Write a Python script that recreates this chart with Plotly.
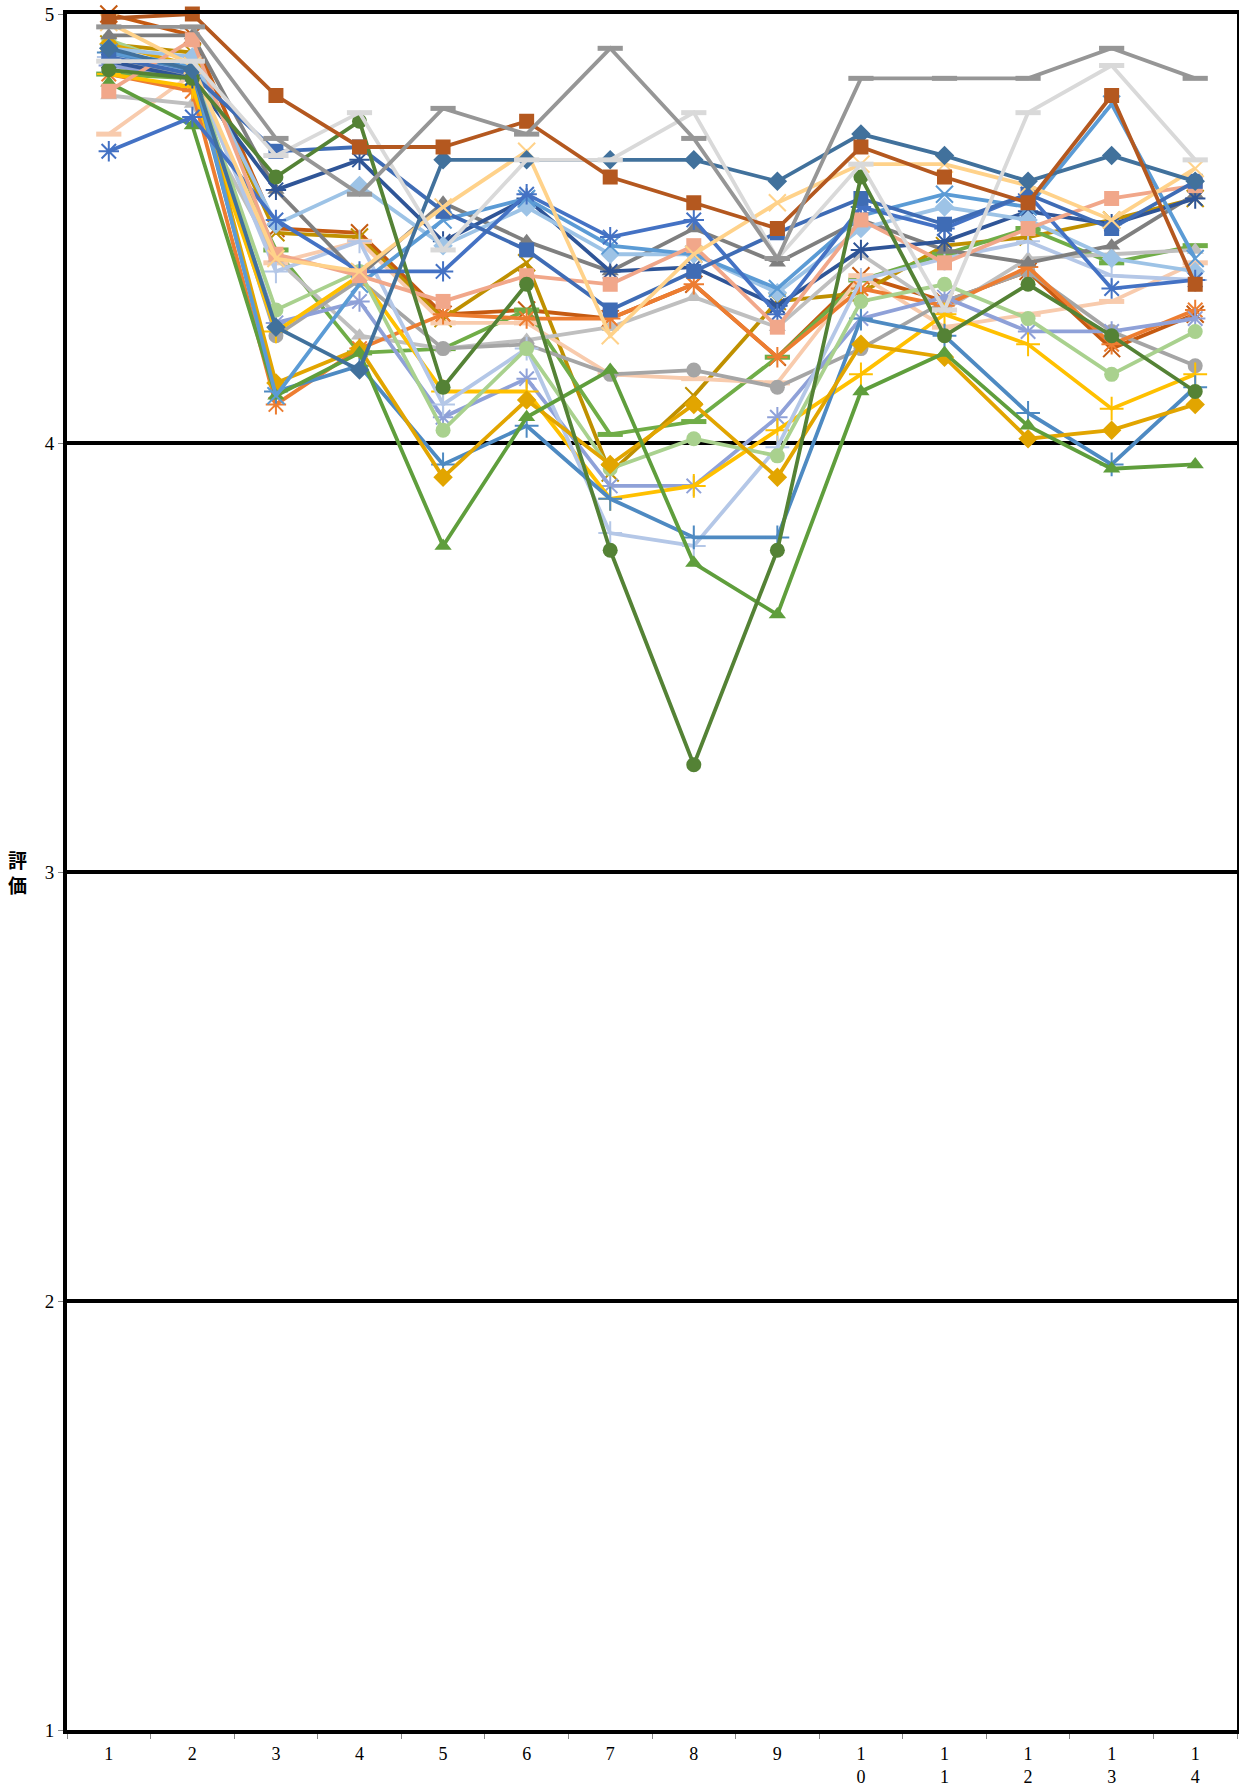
import plotly.graph_objects as go

categories = [str(i) for i in range(1, 15)]
tick_labels = ["1", "2", "3", "4", "5", "6", "7", "8", "9",
               "1<br>0", "1<br>1", "1<br>2", "1<br>3", "1<br>4"]

# series values (評価)
s01 = [4.97, 4.97, 4.71, 4.58, 4.78, 4.72, 4.92, 4.71, 4.43, 4.85, 4.85, 4.85, 4.92, 4.85]
s02 = [4.89, 4.89, 4.67, 4.77, 4.45, 4.66, 4.66, 4.77, 4.43, 4.65, 4.31, 4.77, 4.88, 4.66]
s03 = [4.99, 5.00, 4.81, 4.69, 4.69, 4.75, 4.62, 4.56, 4.50, 4.69, 4.62, 4.56, 4.81, 4.37]
s04 = [4.92, 4.87, 4.27, 4.17, 4.66, 4.66, 4.66, 4.66, 4.61, 4.72, 4.67, 4.61, 4.67, 4.61]
s05 = [4.90, 4.86, 4.68, 4.69, 4.54, 4.45, 4.31, 4.40, 4.49, 4.57, 4.51, 4.58, 4.50, 4.61]
s06 = [4.82, 4.94, 4.44, 4.39, 4.33, 4.39, 4.37, 4.46, 4.27, 4.52, 4.42, 4.50, 4.57, 4.60]
s07 = [4.98, 4.88, 4.43, 4.40, 4.55, 4.68, 4.25, 4.44, 4.56, 4.65, 4.65, 4.60, 4.52, 4.64]
s08 = [4.68, 4.76, 4.52, 4.40, 4.40, 4.58, 4.48, 4.52, 4.30, 4.55, 4.50, 4.58, 4.36, 4.38]
s09 = [4.87, 4.85, 4.62, 4.75, 4.13, 4.37, 3.75, 3.25, 3.75, 4.62, 4.25, 4.37, 4.25, 4.12]
s10 = [4.84, 4.74, 4.11, 4.21, 3.76, 4.06, 4.17, 3.72, 3.60, 4.12, 4.21, 4.04, 3.94, 3.95]
s11 = [4.93, 4.88, 4.14, 4.22, 3.92, 4.10, 3.95, 4.09, 3.92, 4.23, 4.20, 4.01, 4.03, 4.09]
s12 = [4.94, 4.87, 4.31, 4.40, 4.03, 4.22, 3.94, 4.01, 3.97, 4.33, 4.37, 4.29, 4.16, 4.26]
s13 = [4.89, 4.86, 4.25, 4.38, 4.22, 4.23, 4.16, 4.17, 4.13, 4.22, 4.33, 4.40, 4.26, 4.18]
s14 = [4.88, 4.85, 4.28, 4.33, 4.06, 4.15, 3.90, 3.90, 4.06, 4.29, 4.34, 4.26, 4.26, 4.29]
s15 = [4.86, 4.83, 4.26, 4.39, 4.12, 4.12, 3.87, 3.90, 4.03, 4.16, 4.30, 4.23, 4.08, 4.16]
s16 = [4.91, 4.87, 4.12, 4.18, 3.95, 4.04, 3.87, 3.78, 3.78, 4.29, 4.25, 4.07, 3.95, 4.13]
s17 = [4.90, 4.87, 4.40, 4.47, 4.09, 4.22, 3.79, 3.76, 3.99, 4.38, 4.43, 4.47, 4.39, 4.38]
s18 = [4.86, 4.82, 4.09, 4.22, 4.30, 4.29, 4.29, 4.37, 4.20, 4.36, 4.32, 4.41, 4.23, 4.31]
s19 = [4.72, 4.86, 4.42, 4.47, 4.28, 4.28, 4.16, 4.15, 4.14, 4.39, 4.27, 4.30, 4.33, 4.42]
s20 = [4.89, 4.85, 4.59, 4.66, 4.47, 4.57, 4.40, 4.41, 4.32, 4.45, 4.47, 4.54, 4.51, 4.57]
s21 = [4.95, 4.95, 4.59, 4.39, 4.56, 4.47, 4.40, 4.50, 4.42, 4.52, 4.45, 4.42, 4.46, 4.58]
s22 = [4.81, 4.79, 4.43, 4.25, 4.22, 4.24, 4.27, 4.34, 4.27, 4.44, 4.31, 4.43, 4.44, 4.45]
s23 = [4.86, 4.85, 4.45, 4.21, 4.22, 4.31, 4.02, 4.05, 4.20, 4.38, 4.44, 4.50, 4.42, 4.46]
s24 = [4.91, 4.88, 4.11, 4.37, 4.52, 4.57, 4.46, 4.44, 4.36, 4.53, 4.58, 4.55, 4.79, 4.43]
s25 = [4.92, 4.90, 4.51, 4.60, 4.46, 4.55, 4.44, 4.44, 4.35, 4.50, 4.55, 4.52, 4.43, 4.40]
s26 = [4.93, 4.91, 4.49, 4.48, 4.29, 4.42, 3.93, 4.11, 4.33, 4.35, 4.46, 4.48, 4.52, 4.57]
s27 = [5.00, 4.95, 4.50, 4.49, 4.30, 4.31, 4.29, 4.37, 4.20, 4.39, 4.33, 4.40, 4.22, 4.30]

series = [
    (s27, "#C55A11", "x-thin"),
    (s26, "#BF9000", "x-thin"),
    (s23, "#70AD47", "line-ew"),
    (s19, "#F8CBAD", "line-ew"),
    (s22, "#BFBFBF", "triangle-up"),
    (s13, "#A5A5A5", "circle"),
    (s18, "#ED7D31", "asterisk"),
    (s14, "#8FA1D8", "asterisk"),
    (s15, "#FFC000", "cross-thin"),
    (s17, "#B4C7E7", "cross-thin"),
    (s16, "#4E8AC2", "cross-thin"),
    (s12, "#A9D18E", "circle"),
    (s11, "#E2A500", "diamond"),
    (s10, "#5F9E3C", "triangle-up"),
    (s21, "#7F7F7F", "triangle-up"),
    (s20, "#2F5597", "asterisk"),
    (s25, "#9DC3E6", "diamond"),
    (s24, "#5B9BD5", "x-thin"),
    (s08, "#4472C4", "asterisk"),
    (s06, "#F1A78A", "square"),
    (s05, "#3F6CB5", "square"),
    (s07, "#FFD28A", "x-thin"),
    (s09, "#548235", "circle"),
    (s04, "#41719C", "diamond"),
    (s02, "#D9D9D9", "line-ew"),
    (s03, "#B4581F", "square"),
    (s01, "#969696", "line-ew"),
]

line_symbols = {"x-thin", "asterisk", "cross-thin", "line-ew"}
SERIF = "Liberation Serif, DejaVu Serif, serif"

fig = go.Figure()
for vals, color, sym in series:
    if sym in line_symbols:
        marker = dict(symbol=sym, size=17 if sym != "line-ew" else 18,
                      color=color, line=dict(color=color, width=2 if sym != "line-ew" else 5))
    else:
        marker = dict(symbol=sym, size=15, color=color, line=dict(width=0))
    fig.add_trace(go.Scatter(
        x=categories, y=vals, mode="lines+markers",
        line=dict(color=color, width=3.8),
        marker=marker, cliponaxis=False, showlegend=False,
    ))

fig.update_layout(
    width=1239, height=1789,
    margin=dict(l=67, r=2, t=14, b=59),
    paper_bgcolor="white", plot_bgcolor="white",
    font=dict(family=SERIF, size=19, color="black"),
    showlegend=False,
)
fig.update_xaxes(
    type="category", tickson="boundaries", range=[-0.5, 13.5], autorange=False,
    tickmode="array", tickvals=categories, ticktext=tick_labels,
    ticks="outside", ticklen=5, tickcolor="#888888", tickwidth=1,
    ticklabelstandoff=4, automargin=False,
    showline=True, linecolor="black", linewidth=4, mirror=True,
    showgrid=False, zeroline=False,
    tickfont=dict(family=SERIF, size=18, color="black"),
)
fig.update_yaxes(
    range=[1, 5], autorange=False, tickmode="array", tickvals=[1, 2, 3, 4, 5],
    ticks="outside", ticklen=5, tickcolor="#888888", tickwidth=1,
    automargin=False,
    showline=True, linecolor="black", linewidth=4, mirror=True,
    showgrid=True, gridcolor="black", gridwidth=4, zeroline=False,
    tickfont=dict(family=SERIF, size=19, color="black"),
)
fig.add_annotation(
    text="<b>評<br>価</b>", xref="paper", yref="paper",
    x=-0.042, y=0.5, xanchor="center", yanchor="middle", showarrow=False,
    font=dict(family="Noto Sans CJK JP", size=19, color="black"),
)

fig.write_html("out.html", config={"displayModeBar": False},
               post_script="document.body.style.margin='0px';document.body.style.overflow='hidden';")
